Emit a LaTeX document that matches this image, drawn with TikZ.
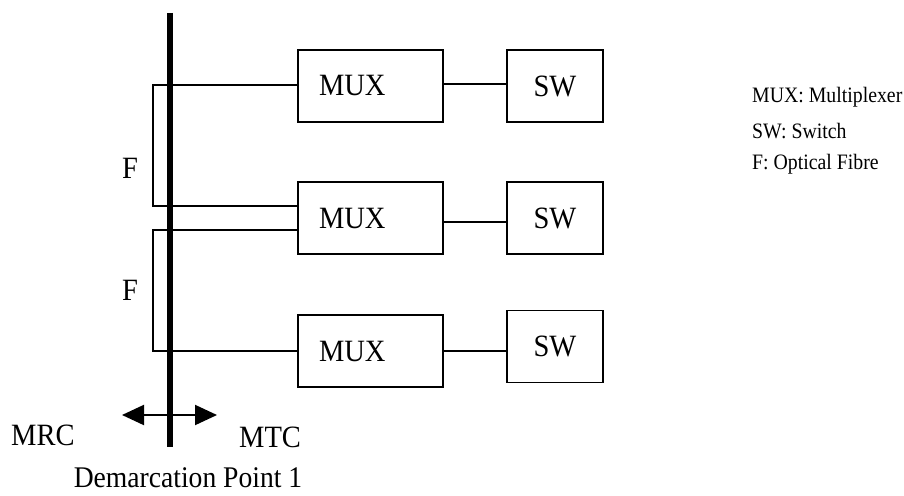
\documentclass[tikz,border=0pt]{standalone}
\usepackage{fontspec}
\setmainfont{Liberation Serif}
\newfontfamily\refserif[FakeStretch=0.92]{Liberation Serif}
\newfontfamily\legserif[FakeStretch=0.9]{Liberation Serif}
\usetikzlibrary{arrows.meta}
\begin{document}
\begin{tikzpicture}[x=1pt,y=-1pt,
  box/.style={draw,line width=1.3pt,minimum height=72pt,inner sep=0pt,font=\refserif\fontsize{31}{33}\selectfont},
  muxbox/.style={box,text width=145pt,align=left},
  swbox/.style={box,minimum width=96pt},
  wire/.style={line width=1.3pt},
  lbl/.style={font=\refserif\fontsize{31}{33}\selectfont,inner sep=0pt},
  leg/.style={font=\legserif\fontsize{22}{24}\selectfont,inner sep=0pt,anchor=west}]
\useasboundingbox (0,0) rectangle (904,495);
% boxes
\node[muxbox] (mux1) at (370.5,86) {\hspace*{21pt}MUX};
\node[swbox] (sw1) at (555,86) {SW};
\node[muxbox] (mux2) at (370.5,218) {\hspace*{21pt}MUX};
\node[swbox] (sw2) at (555,218) {SW};
\node[muxbox] (mux3) at (370.5,351) {\hspace*{21pt}MUX};
\node[swbox] (sw3) at (555,346.5) {SW};
% demarcation line
\coordinate (dtop) at (170,13);
\coordinate (dbot) at (170,447);
% fibre coordinates
\coordinate (a1) at (153,85);
\coordinate (a2) at (153,206);
\coordinate (b1) at (153,230);
\coordinate (b2) at (153,351);
\draw[wire] (mux1.west |- 0,85) -- (a1) -- (a2) -- (mux2.west |- 0,206);
\draw[wire] (mux2.west |- 0,230) -- (b1) -- (b2) -- (mux3.west);
\draw[wire] (mux1.east |- 0,84) -- (sw1.west |- 0,84);
\draw[wire] (mux2.east |- 0,222) -- (sw2.west |- 0,222);
\draw[wire] (mux3.east) -- (sw3.west |- mux3.east);
\draw[line width=5.5pt] (dtop) -- (dbot);
% arrows
\coordinate (al) at (122,415);
\coordinate (ar) at (217,415);
\draw[line width=2pt,{Triangle[length=22pt,width=20pt]}-{Triangle[length=22pt,width=20pt]}] (al) -- (ar);
% labels
\node[lbl] (f1) at (130,168) {F};
\node[lbl] (f2) at (130,290) {F};
\node[lbl,anchor=west] (mrc) at (11,435) {MRC};
\node[lbl,anchor=west] (mtc) at (239,437) {MTC};
\node[lbl,font=\refserif\fontsize{30}{32}\selectfont] (dp) at (188,478) {Demarcation Point 1};
% legend
\node[leg] (l1) at (752,97) {MUX: Multiplexer};
\node[leg] (l2) at (752,131) {SW: Switch};
\node[leg] (l3) at (752,164) {F: Optical Fibre};
\end{tikzpicture}
\end{document}
